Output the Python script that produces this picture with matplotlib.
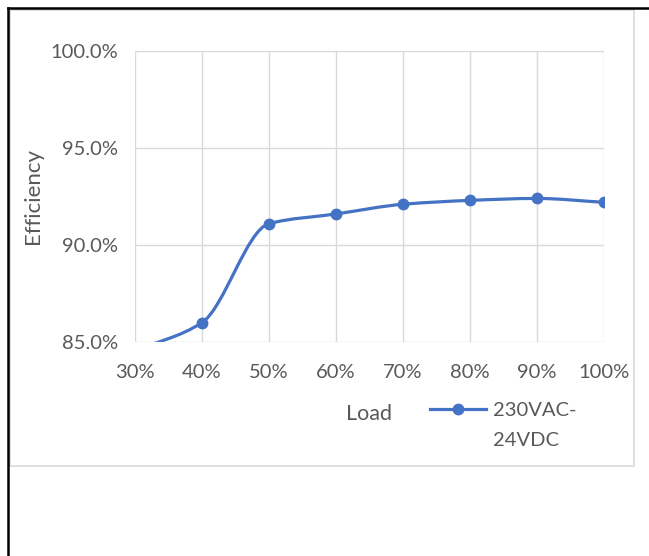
import numpy as np
import matplotlib.pyplot as plt
from matplotlib.path import Path
from matplotlib.patches import PathPatch, Rectangle
from matplotlib.lines import Line2D
from matplotlib.ticker import FuncFormatter

plt.rcParams['font.family'] = ['Lato', 'DejaVu Sans']

# efficiency curve, 230VAC in / 24VDC out
load = [30, 40, 50, 60, 70, 80, 90, 100]
efficiency = [84.55, 86.0, 91.1, 91.6, 92.1, 92.3, 92.4, 92.2]
series_name = ['230VAC-', '24VDC']

W, H = 649, 556
BLUE = '#4472c4'
GRID = '#d9d9d9'
TXT = '#595959'

fig = plt.figure(figsize=(W / 100, H / 100), dpi=100)

# outer black frame (top + left) and light chart border
fig.add_artist(Line2D([8 / W, 1], [1 - 8 / H, 1 - 8 / H], color='black', lw=1.8))
fig.add_artist(Line2D([8 / W, 8 / W], [0, 1 - 8 / H], color='black', lw=1.8))
fig.add_artist(Rectangle((10 / W, 1 - 466 / H), 624 / W, 456 / H,
                         fill=False, edgecolor=GRID, lw=1.2))

ax = fig.add_axes([135 / W, 1 - 342 / H, 469 / W, 291 / H])
ax.set_xlim(30, 100)
ax.set_ylim(85, 100)
ax.set_xticks(load)
ax.set_yticks([85, 90, 95, 100])
ax.xaxis.set_major_formatter(FuncFormatter(lambda v, p: f'{v:.0f}%'))
ax.yaxis.set_major_formatter(FuncFormatter(lambda v, p: f'{v:.1f}%'))
ax.grid(True, color=GRID, lw=1)
ax.set_axisbelow(True)
for s in ax.spines.values():
    s.set_visible(False)
ax.tick_params(length=0, labelsize=14.5, labelcolor=TXT)
ax.tick_params(axis='x', pad=16)
ax.tick_params(axis='y', pad=12)

# smoothed line: monotone cubic (fritsch-carlson) as bezier segments
x = np.array(load, float)
y = np.array(efficiency, float)
h = np.diff(x)
d = np.diff(y) / h
m = np.empty_like(y)
m[0], m[-1] = d[0], d[-1]
for i in range(1, len(y) - 1):
    if d[i - 1] * d[i] <= 0:
        m[i] = 0.0
    else:
        w1, w2 = 2 * h[i] + h[i - 1], h[i] + 2 * h[i - 1]
        m[i] = (w1 + w2) / (w1 / d[i - 1] + w2 / d[i])
verts = [(x[0], y[0])]
codes = [Path.MOVETO]
for i in range(len(x) - 1):
    k = h[i] / 3
    verts += [(x[i] + k, y[i] + m[i] * k),
              (x[i + 1] - k, y[i + 1] - m[i + 1] * k),
              (x[i + 1], y[i + 1])]
    codes += [Path.CURVE4] * 3
ax.add_patch(PathPatch(Path(verts, codes), fill=False, edgecolor=BLUE,
                       lw=2.3, capstyle='round'))
ax.plot(x, y, 'o', color=BLUE, ms=7.5, zorder=3)

fig.text(33 / W, 1 - 196 / H, 'Efficiency', rotation=90,
         ha='center', va='center', color=TXT, fontsize=16)
fig.text(369 / W, 1 - 414 / H, 'Load', ha='center', va='center',
         color=TXT, fontsize=15.5)

# legend entry
fig.add_artist(Line2D([430 / W, 486 / W], [1 - 409 / H, 1 - 409 / H],
                      color=BLUE, lw=2.3))
fig.add_artist(Line2D([458 / W], [1 - 409 / H], color=BLUE, marker='o',
                      ms=7.5, lw=0))
fig.text(493 / W, 1 - 410 / H, series_name[0], ha='left', va='center',
         color=TXT, fontsize=14.5)
fig.text(493 / W, 1 - 440 / H, series_name[1], ha='left', va='center',
         color=TXT, fontsize=14.5)

fig.savefig('out.png', dpi=100, facecolor='white')
